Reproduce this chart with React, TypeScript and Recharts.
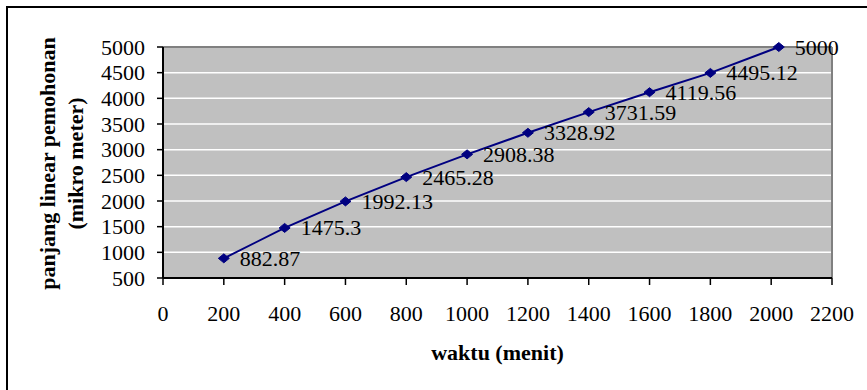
import React from 'react';
import {
  LineChart,
  Line,
  XAxis,
  YAxis,
  CartesianGrid,
  ReferenceLine,
  LabelList,
  Label,
} from 'recharts';

const waktu = [200, 400, 600, 800, 1000, 1200, 1400, 1600, 1800, 2025];
const panjang = [882.87, 1475.3, 1992.13, 2465.28, 2908.38, 3328.92, 3731.59, 4119.56, 4495.12, 5000];
const xTicks = [0, 200, 400, 600, 800, 1000, 1200, 1400, 1600, 1800, 2000, 2200];
const yTicks = [500, 1000, 1500, 2000, 2500, 3000, 3500, 4000, 4500, 5000];

const data = waktu.map((x, i) => ({ x, y: panjang[i] }));

const FONT = '"Liberation Serif", "Times New Roman", serif';

const Diamond = (props: any) => {
  const { cx, cy } = props;
  if (cx == null || cy == null) return null;
  return (
    <polygon
      points={`${cx},${cy - 4.5} ${cx + 5.5},${cy} ${cx},${cy + 4.5} ${cx - 5.5},${cy}`}
      fill="#000080"
      stroke="#000080"
    />
  );
};

const PointLabel = (props: any) => {
  const { x, y, value } = props;
  return (
    <text x={x + 16} y={y + 7.5} fontFamily={FONT} fontSize={22} fill="#000" textAnchor="start">
      {String(value)}
    </text>
  );
};

const YTitle = (props: any) => {
  const { viewBox } = props;
  const cy = viewBox.y + viewBox.height / 2 + 1;
  return (
    <g fontFamily={FONT} fontSize={22} fontWeight="bold" fill="#000">
      <text x={47} y={cy} transform={`rotate(-90, 47, ${cy})`} textAnchor="middle" dominantBaseline="central">
        panjang linear pemohonan
      </text>
      <text x={75} y={cy} transform={`rotate(-90, 75, ${cy})`} textAnchor="middle" dominantBaseline="central">
        (mikro meter)
      </text>
    </g>
  );
};

const XTitle = (props: any) => {
  const { viewBox } = props;
  return (
    <text
      x={viewBox.x + viewBox.width / 2}
      y={viewBox.y + 82}
      textAnchor="middle"
      fontFamily={FONT}
      fontSize={22}
      fontWeight="bold"
      fill="#000"
    >
      waktu (menit)
    </text>
  );
};

export default function App() {
  return (
    <div style={{ position: 'absolute', left: 0, top: 0, width: 867, height: 390, overflow: 'hidden', background: '#fff' }}>
      <div
        style={{
          position: 'absolute',
          left: 6,
          top: 6,
          width: 900,
          height: 420,
          border: '2px solid #000',
        }}
      />
      <div style={{ position: 'absolute', left: 0, top: 0 }}>
        <LineChart width={867} height={390} data={data} margin={{ top: 47, right: 35, bottom: 32, left: 0 }}>
          <CartesianGrid horizontal vertical={false} stroke="#ffffff" strokeWidth={1.5} fill="#c0c0c0" />
          <XAxis
            type="number"
            dataKey="x"
            domain={[0, 2200]}
            ticks={xTicks}
            interval={0}
            height={80}
            tickSize={7}
            tickMargin={20}
            axisLine={{ stroke: '#000', strokeWidth: 2 }}
            tickLine={{ stroke: '#000', strokeWidth: 1.5 }}
            tick={{ fill: '#000', fontSize: 22, fontFamily: FONT }}
          >
            <Label content={<XTitle />} />
          </XAxis>
          <YAxis
            type="number"
            dataKey="y"
            domain={[500, 5000]}
            ticks={yTicks}
            interval={0}
            width={163}
            tickSize={6}
            tickMargin={12}
            axisLine={{ stroke: '#000', strokeWidth: 2 }}
            tickLine={{ stroke: '#000', strokeWidth: 1.5 }}
            tick={{ fill: '#000', fontSize: 22, fontFamily: FONT }}
          >
            <Label content={<YTitle />} />
          </YAxis>
          <ReferenceLine y={5000} stroke="#808080" strokeWidth={2} />
          <ReferenceLine x={2200} stroke="#808080" strokeWidth={2} />
          <Line
            type="linear"
            dataKey="y"
            stroke="#000080"
            strokeWidth={2}
            dot={<Diamond />}
            activeDot={false}
            isAnimationActive={false}
          >
            <LabelList dataKey="y" content={<PointLabel />} />
          </Line>
        </LineChart>
      </div>
    </div>
  );
}
